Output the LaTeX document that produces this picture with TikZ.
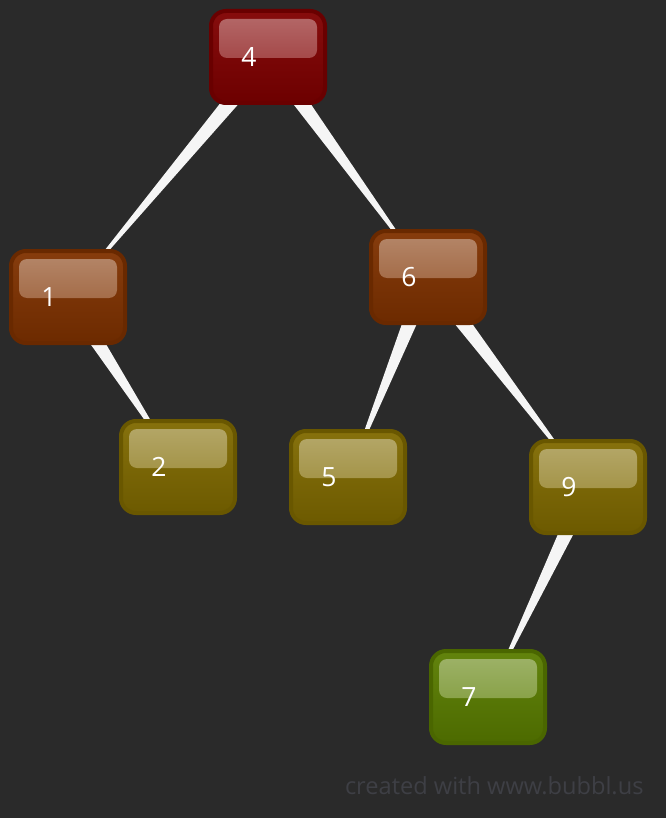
\documentclass[tikz,border=0pt]{standalone}
\usepackage{fontspec}
\setmainfont{Open Sans}
\usepackage{xcolor}
\usetikzlibrary{calc, backgrounds}
\definecolor{bgc}{HTML}{2A2A2A}
\definecolor{redc}{HTML}{800000}
\definecolor{rustc}{HTML}{803200}
\definecolor{olivec}{HTML}{806A00}
\definecolor{greenc}{HTML}{5A7D00}
\definecolor{markc}{HTML}{3E3F45}

\begin{document}
\begin{tikzpicture}[x=1pt, y=-1pt,
  bub/.style={rectangle, rounded corners=15pt, line width=4pt,
              draw=#1!82!black, top color=#1!95!white, bottom color=#1!85!black,
              minimum width=114pt, minimum height=92pt, inner sep=0pt,
              path picture={\shade[rounded corners=8pt,
                  top color=white!42!#1, bottom color=white!16!#1]
                ([shift={(8,8)}]path picture bounding box.north west) rectangle
                ([shift={(-8,47)}]path picture bounding box.north east);}},
  num/.style={font=\fontsize{26.5}{30}\selectfont, text=white, xshift=-19pt},
  wedge/.style={fill=white!96!black},
  credit/.style={font=\fontsize{23.6}{28}\selectfont, text=markc}
]
%% nodes of the tree
\node[bub=redc,   label={[num]center:4}] (n4) at (268,57)  {};
\node[bub=rustc,  label={[num]center:1}] (n1) at (68,297)  {};
\node[bub=rustc,  label={[num]center:6}] (n6) at (428,277) {};
\node[bub=olivec, label={[num]center:2}] (n2) at (178,467) {};
\node[bub=olivec, label={[num]center:5}] (n5) at (348,477) {};
\node[bub=olivec, label={[num]center:9}] (n9) at (588,487) {};
\node[bub=greenc, label={[num]center:7}] (n7) at (488,697) {};
\node[credit, anchor=base east] (mark) at (647,794) {created with www.bubbl.us};
%% tapered links behind the nodes
\begin{scope}[on background layer]
\fill[bgc] (0,0) rectangle (666,818);
\fill[wedge] ($(n4.center)!9pt!90:(n1.center)$) -- ($(n4.center)!9pt!-90:(n1.center)$) -- (n1.center) -- cycle;
\fill[wedge] ($(n4.center)!9pt!90:(n6.center)$) -- ($(n4.center)!9pt!-90:(n6.center)$) -- (n6.center) -- cycle;
\fill[wedge] ($(n1.center)!9pt!90:(n2.center)$) -- ($(n1.center)!9pt!-90:(n2.center)$) -- (n2.center) -- cycle;
\fill[wedge] ($(n6.center)!9pt!90:(n5.center)$) -- ($(n6.center)!9pt!-90:(n5.center)$) -- (n5.center) -- cycle;
\fill[wedge] ($(n6.center)!9pt!90:(n9.center)$) -- ($(n6.center)!9pt!-90:(n9.center)$) -- (n9.center) -- cycle;
\fill[wedge] ($(n9.center)!9pt!90:(n7.center)$) -- ($(n9.center)!9pt!-90:(n7.center)$) -- (n7.center) -- cycle;
\end{scope}
\end{tikzpicture}
\end{document}
